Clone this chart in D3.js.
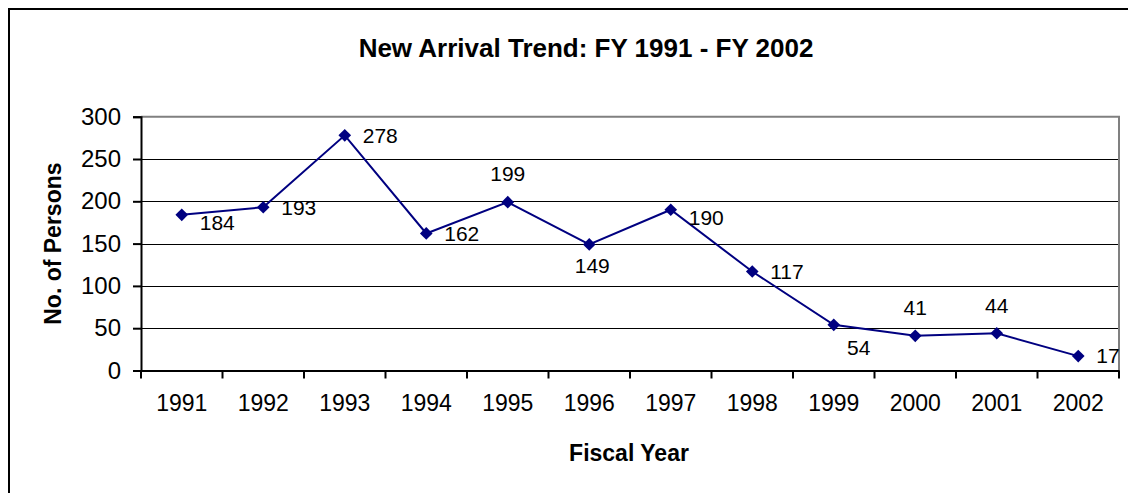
<!DOCTYPE html>
<html>
<head>
<meta charset="utf-8">
<script src="https://cdn.jsdelivr.net/npm/d3@7"></script>
<style>
  html, body { margin: 0; padding: 0; background: #fff; }
  svg { display: block; }
  text { font-family: "Liberation Sans", Arial, sans-serif; fill: #000; }
</style>
</head>
<body>
<svg id="chart" width="1128" height="493"></svg>
<script>
// ---- data ----
const years = ["1991","1992","1993","1994","1995","1996","1997","1998","1999","2000","2001","2002"];
const persons = [184, 193, 278, 162, 199, 149, 190, 117, 54, 41, 44, 17];
const labelPlacement = ["rd","r","r","r","t","b","rd","r","br","t","t","r"];
const yTicks = [0, 50, 100, 150, 200, 250, 300];
const titleText = "New Arrival Trend: FY 1991 - FY 2002";
const xTitle = "Fiscal Year";
const yTitle = "No. of Persons";

// ---- layout ----
const svg = d3.select("#chart");
const plot = { left: 141, right: 1119, top: 116.7, bottom: 370.5 };
const navy = "#000080";
const grey = "#808080";

// outer chart border
svg.append("rect")
  .attr("x", 9).attr("y", 9)
  .attr("width", 1160).attr("height", 500)
  .attr("fill", "none").attr("stroke", "#000").attr("stroke-width", 2);

const x = d3.scaleBand().domain(years).range([plot.left, plot.right]).padding(0);
const y = d3.scaleLinear().domain([0, 300]).range([plot.bottom, plot.top]);

// gridlines
svg.append("g").selectAll("line")
  .data(yTicks.filter(v => v > 0 && v < 300))
  .join("line")
  .attr("x1", plot.left).attr("x2", plot.right)
  .attr("y1", d => Math.round(y(d)) + 0.5).attr("y2", d => Math.round(y(d)) + 0.5)
  .attr("stroke", "#000").attr("stroke-width", 1);

// plot area border (top & right) grey
svg.append("path")
  .attr("d", `M${plot.left},${y(300)}H${plot.right}V${plot.bottom}`)
  .attr("fill", "none").attr("stroke", grey).attr("stroke-width", 2);

// y axis
const yAxis = d3.axisLeft(y).tickValues(yTicks).tickSize(8).tickPadding(12).tickFormat(d3.format("d"));
const gy = svg.append("g").attr("transform", `translate(${plot.left},0)`).call(yAxis);
gy.select(".domain").attr("stroke", "#000").attr("stroke-width", 2);
gy.selectAll(".tick line").attr("stroke", "#000").attr("stroke-width", 2);
gy.selectAll(".tick text").style("font-size", "24px").attr("fill", "#000");

// x axis (labels centred in categories, ticks between categories)
const xAxis = d3.axisBottom(x).tickSize(0).tickPadding(24);
const gx = svg.append("g").attr("transform", `translate(0,${plot.bottom})`).call(xAxis);
gx.select(".domain").attr("stroke", "#000").attr("stroke-width", 2);
gx.selectAll(".tick text").style("font-size", "23px").attr("fill", "#000");
svg.append("g").selectAll("line")
  .data(years.map(d => x(d)).concat([x(years[years.length - 1]) + x.bandwidth()]))
  .join("line")
  .attr("x1", d => d).attr("x2", d => d)
  .attr("y1", plot.bottom).attr("y2", plot.bottom + 8)
  .attr("stroke", "#000").attr("stroke-width", 2);

// series line
const cx = d => x(d) + x.bandwidth() / 2;
const pts = years.map((yr, i) => [cx(yr), y(persons[i])]);
svg.append("path")
  .attr("d", d3.line()(pts))
  .attr("fill", "none").attr("stroke", navy).attr("stroke-width", 2);

// markers
svg.append("g").selectAll("path")
  .data(pts)
  .join("path")
  .attr("d", d3.symbol(d3.symbolSquare, 80)())
  .attr("transform", d => `translate(${d[0]},${d[1]}) rotate(45)`)
  .attr("fill", navy);

// data labels
const place = {
  r:  { anchor: "start",  dx: 18, dy: 0 },
  rd: { anchor: "start",  dx: 18, dy: 8 },
  t:  { anchor: "middle", dx: 0,  dy: -28 },
  b:  { anchor: "middle", dx: 3,  dy: 21 },
  br: { anchor: "middle", dx: 25, dy: 23 }
};
svg.append("g").selectAll("text")
  .data(pts)
  .join("text")
  .attr("x", (d, i) => d[0] + place[labelPlacement[i]].dx)
  .attr("y", (d, i) => d[1] + place[labelPlacement[i]].dy)
  .attr("dy", "0.35em")
  .attr("text-anchor", (d, i) => place[labelPlacement[i]].anchor)
  .style("font-size", "21px")
  .text((d, i) => persons[i]);

// title
svg.append("text")
  .attr("x", 586).attr("y", 48).attr("dy", "0.35em")
  .attr("text-anchor", "middle")
  .style("font-size", "26px").style("font-weight", "bold")
  .text(titleText);

// axis titles
svg.append("text")
  .attr("x", 629).attr("y", 453).attr("dy", "0.35em")
  .attr("text-anchor", "middle")
  .style("font-size", "23px").style("font-weight", "bold")
  .text(xTitle);

svg.append("text")
  .attr("transform", `translate(53,${(plot.top + plot.bottom) / 2}) rotate(-90)`)
  .attr("dy", "0.35em")
  .attr("text-anchor", "middle")
  .style("font-size", "23px").style("font-weight", "bold")
  .text(yTitle);
</script>
</body>
</html>
